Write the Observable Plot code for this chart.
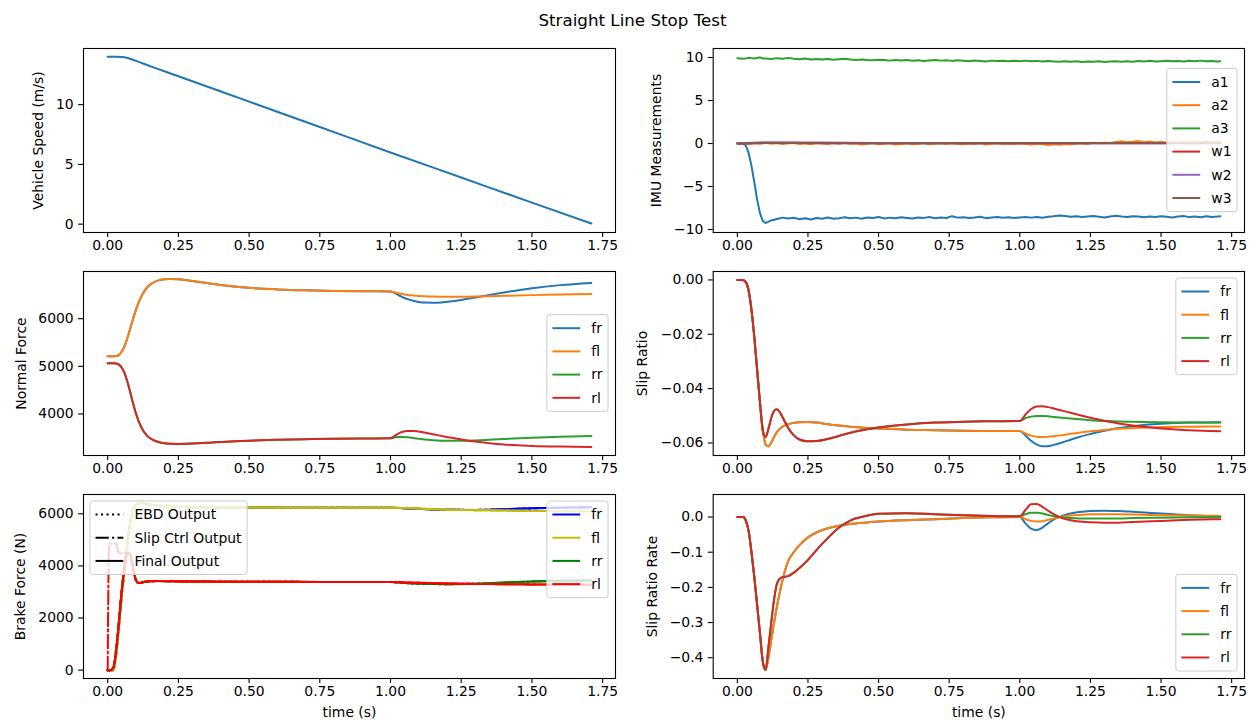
<!DOCTYPE html>
<html><head><meta charset="utf-8">
<script src="https://cdn.jsdelivr.net/npm/d3@7"></script>
<script src="https://cdn.jsdelivr.net/npm/@observablehq/plot@0.6"></script>
<style>
html,body{margin:0;padding:0;background:#fff;}
#fig{position:relative;width:1257px;height:723px;overflow:hidden;font-family:"DejaVu Sans",sans-serif;background:#fff;}
#title{position:absolute;left:4px;width:1257px;top:10px;line-height:20px;text-align:center;font-size:16.7px;color:#000;}
</style></head><body>
<div id="fig"><div id="title">Straight Line Stop Test</div></div>
<script>
// ---------------- DATA ----------------
// Vehicle speed
const speedT = [0, 0.03, 0.05, 0.07, 0.10, 0.15, 0.25, 0.50, 0.75, 1.00, 1.25, 1.50, 1.71];
const speed  = [14.0, 14.0, 13.98, 13.9, 13.66, 13.22, 12.38, 10.25, 8.13, 6.0, 3.9, 1.8, 0.05];

// IMU samples
const imuT = [0.00,0.02,0.03,0.04,0.05,0.06,0.07,0.08,0.09,0.10,0.12,0.14,0.16,0.18,
  0.20,0.22,0.24,0.26,0.28,0.30,0.32,0.34,0.36,0.38,
  0.40,0.42,0.44,0.46,0.48,0.50,0.52,0.54,0.56,0.58,
  0.60,0.62,0.64,0.66,0.68,0.70,0.72,0.74,0.76,0.78,
  0.80,0.82,0.84,0.86,0.88,0.90,0.92,0.94,0.96,0.98,
  1.00,1.02,1.04,1.06,1.08,1.10,1.12,1.14,1.16,1.18,
  1.20,1.22,1.24,1.26,1.28,1.30,1.32,1.34,1.36,1.38,
  1.40,1.42,1.44,1.46,1.48,1.50,1.52,1.54,1.56,1.58,
  1.60,1.62,1.64,1.66,1.68,1.70,1.71];
const imuA1 = [0.02,-0.03,-0.25,-1.1,-2.6,-4.5,-6.5,-8.1,-9.0,-9.25,-8.95,-8.78,-8.62,-8.72,
  -8.64,-8.8,-8.7,-8.84,-8.66,-8.74,-8.6,-8.76,-8.68,-8.58,
  -8.7,-8.62,-8.75,-8.6,-8.67,-8.55,-8.71,-8.62,-8.68,-8.58,
  -8.66,-8.73,-8.6,-8.65,-8.55,-8.7,-8.6,-8.66,-8.45,-8.62,
  -8.58,-8.66,-8.6,-8.52,-8.68,-8.6,-8.55,-8.64,-8.58,-8.66,
  -8.6,-8.54,-8.62,-8.56,-8.64,-8.52,-8.47,-8.36,-8.44,-8.52,
  -8.46,-8.56,-8.5,-8.43,-8.52,-8.6,-8.48,-8.41,-8.5,-8.56,
  -8.46,-8.5,-8.58,-8.48,-8.54,-8.45,-8.52,-8.6,-8.5,-8.44,
  -8.56,-8.5,-8.58,-8.47,-8.54,-8.5,-8.46];
const imuA2 = [0.05,0.02,-0.03,-0.08,0.01,0.06,0.04,-0.04,0.02,0.1,-0.02,0.07,-0.06,0.03,
  0.08,-0.05,0.04,-0.1,0.06,0.0,-0.07,0.05,-0.03,0.09,
  -0.04,0.03,-0.12,-0.02,0.05,-0.09,-0.03,0.04,-0.11,-0.05,
  0.02,-0.08,-0.04,0.06,-0.1,-0.02,0.03,-0.07,0.04,-0.05,
  -0.09,0.01,-0.06,0.03,-0.12,-0.04,0.02,-0.08,-0.03,-0.1,
  0.0,-0.06,-0.13,-0.04,-0.1,-0.18,-0.08,-0.15,-0.05,-0.11,
  -0.02,0.04,-0.06,0.08,0.02,0.1,0.05,0.18,0.25,0.14,
  0.22,0.3,0.16,0.24,0.12,0.2,0.08,0.15,0.1,0.18,
  0.12,0.2,0.14,0.22,0.16,0.2,0.18];
const imuA3 = [9.92,9.86,9.9,9.97,9.93,9.88,9.95,10.02,9.89,9.9,9.84,9.93,9.87,9.96,
  9.86,9.8,9.88,9.78,9.84,9.76,9.82,9.74,9.8,9.85,
  9.76,9.7,9.78,9.72,9.68,9.75,9.7,9.64,9.72,9.66,
  9.7,9.62,9.68,9.6,9.66,9.72,9.64,9.69,9.61,9.67,
  9.63,9.58,9.66,9.6,9.55,9.64,9.59,9.62,9.56,9.63,
  9.58,9.64,9.57,9.61,9.53,9.6,9.55,9.5,9.58,9.52,
  9.56,9.49,9.54,9.5,9.57,9.48,9.53,9.58,9.51,9.56,
  9.52,9.6,9.55,9.62,9.54,9.58,9.63,9.56,9.6,9.55,
  9.62,9.57,9.64,9.58,9.6,9.54,9.56];
const wT  = [0, 0.05, 0.10, 0.30, 0.50, 1.00, 1.50, 1.71];
const imuW1 = [0, 0.02, 0.05, 0.04, 0.02, 0.02, 0.03, 0.03];
const imuW2 = [0, 0.08, 0.15, 0.12, 0.05, 0.03, 0.02, 0.02];
const imuW3 = [0, 0.03, 0.06, 0.06, 0.04, 0.05, 0.06, 0.06];

// Shared time grid for the wheel quantities
const tS = [0, 0.02, 0.03, 0.04, 0.05, 0.06, 0.07, 0.08, 0.09, 0.10, 0.11, 0.12, 0.13, 0.14, 0.15, 0.16, 0.18, 0.20, 0.22, 0.25,
  0.28, 0.32, 0.36, 0.40, 0.45, 0.50, 0.60, 0.70, 0.80, 0.90, 1.00,
  1.02, 1.04, 1.06, 1.08, 1.10, 1.12, 1.15, 1.18, 1.21, 1.25, 1.30, 1.35, 1.40, 1.50, 1.60, 1.71];

// Normal force (t <= 1.00 shared by left/right wheels, then per wheel)
const nfFrontPre = [5210,5210,5215,5240,5310,5430,5600,5800,6000,6190,6350,6480,6580,6660,6715,6755,6805,6828,6835,6828,
  6808,6775,6740,6710,6675,6648,6615,6595,6582,6576,6572];
const nfRearPre = [5065,5065,5060,5035,4970,4850,4670,4450,4220,4010,3840,3710,3610,3540,3490,3455,3410,3385,3375,3372,
  3376,3385,3398,3412,3428,3440,3458,3470,3478,3484,3488];
const nfFrPost = [6520,6460,6410,6375,6350,6338,6335,6342,6360,6395,6445,6500,6550,6640,6705,6750];
const nfFlPost = [6545,6520,6500,6488,6478,6472,6466,6462,6460,6460,6464,6472,6480,6495,6508,6517];
const nfRrPost = [3515,3518,3510,3495,3478,3462,3448,3440,3437,3436,3445,3460,3475,3500,3522,3538];
const nfRlPost = [3560,3620,3645,3645,3630,3610,3575,3540,3505,3465,3420,3385,3358,3330,3315,3305];

// Slip ratio
const srFrontPre = [0,0,-0.0008,-0.004,-0.011,-0.021,-0.033,-0.045,-0.055,-0.0605,-0.0612,-0.0598,-0.0578,-0.0560,-0.0548,-0.0540,-0.0531,-0.0526,-0.0524,-0.0523,
  -0.0525,-0.0531,-0.0536,-0.0540,-0.0544,-0.0547,-0.0551,-0.0553,-0.0555,-0.0556,-0.0556];
const srRearPre = [0,0,-0.0008,-0.004,-0.011,-0.021,-0.033,-0.045,-0.0555,-0.0578,-0.0548,-0.0508,-0.0482,-0.0476,-0.0486,-0.0505,-0.0545,-0.0572,-0.0587,-0.0594,
  -0.0593,-0.0585,-0.0574,-0.0562,-0.0551,-0.0543,-0.0532,-0.0525,-0.0522,-0.0520,-0.0519];
const srFrPost = [-0.0572,-0.0592,-0.0606,-0.0612,-0.0612,-0.0607,-0.0598,-0.0588,-0.0578,-0.0567,-0.0555,-0.0545,-0.0538,-0.0529,-0.0525,-0.0524];
const srFlPost = [-0.0565,-0.0573,-0.0577,-0.0578,-0.0577,-0.0575,-0.0571,-0.0566,-0.0562,-0.0557,-0.0552,-0.0548,-0.0545,-0.0541,-0.0540,-0.0539];
const srRrPost = [-0.0508,-0.0503,-0.0501,-0.0501,-0.0502,-0.0504,-0.0507,-0.0510,-0.0513,-0.0516,-0.0519,-0.0521,-0.0522,-0.0524,-0.0525,-0.0525];
const srRlPost = [-0.0495,-0.0475,-0.0466,-0.0465,-0.0468,-0.0473,-0.0481,-0.0489,-0.0497,-0.0507,-0.0518,-0.0528,-0.0536,-0.0547,-0.0553,-0.0557];

// Slip ratio rate
const srrFrontPre = [0,0,-0.01,-0.04,-0.10,-0.17,-0.25,-0.33,-0.41,-0.435,-0.40,-0.35,-0.30,-0.255,-0.215,-0.18,-0.125,-0.100,-0.080,-0.058,
  -0.044,-0.032,-0.025,-0.020,-0.016,-0.013,-0.009,-0.006,-0.003,-0.001,0.0];
const srrRearPre = [0,0,-0.01,-0.04,-0.10,-0.17,-0.25,-0.33,-0.41,-0.435,-0.37,-0.30,-0.235,-0.19,-0.175,-0.171,-0.168,-0.158,-0.145,-0.122,
  -0.094,-0.060,-0.030,-0.010,0.002,0.009,0.011,0.008,0.005,0.003,0.002];
const srrFrPost = [-0.018,-0.033,-0.037,-0.030,-0.018,-0.007,0.003,0.010,0.014,0.017,0.018,0.017,0.015,0.010,0.005,0.002];
const srrFlPost = [-0.006,-0.011,-0.013,-0.012,-0.008,-0.004,0.001,0.004,0.006,0.008,0.008,0.008,0.007,0.005,0.004,0.003];
const srrRrPost = [0.008,0.012,0.012,0.010,0.006,0.002,-0.001,-0.003,-0.004,-0.004,-0.004,-0.004,-0.003,-0.002,-0.001,0.000];
const srrRlPost = [0.020,0.036,0.037,0.029,0.018,0.008,-0.003,-0.009,-0.013,-0.015,-0.016,-0.016,-0.014,-0.011,-0.008,-0.006];

// Brake force
const brakeT = [0, 0.005, 0.01, 0.02, 0.03, 0.04, 0.05, 0.06, 0.07, 0.08, 0.09, 0.10, 0.11, 0.12, 0.13, 0.15, 0.18, 0.22, 0.30, 0.50,
  0.75, 1.00, 1.05, 1.10, 1.20, 1.30, 1.40, 1.50, 1.60, 1.71];
const bfFr = [0,0,0,0,600,1700,2900,3900,4900,5700,6150,6350,6410,6420,6405,6360,6310,6280,6255,6240,
  6235,6230,6215,6190,6155,6150,6175,6210,6235,6250];
const bfFl = [0,0,0,0,600,1700,2900,3900,4900,5700,6150,6350,6410,6420,6405,6360,6310,6280,6255,6240,
  6235,6230,6225,6200,6160,6140,6125,6110,6100,6095];
const bfRr = [0,0,0,100,800,1900,3100,4000,4500,4450,3900,3450,3340,3360,3390,3410,3420,3412,3402,3392,
  3386,3380,3345,3315,3300,3318,3360,3400,3428,3440];
const bfRl = [0,0,0,100,800,1900,3100,4000,4500,4450,3900,3450,3340,3360,3390,3410,3420,3412,3402,3392,
  3386,3380,3368,3350,3328,3310,3298,3290,3284,3280];
const bfRlSlip = [0,4850,4850,4850,4850,4500,4480,4500,4500,4450,3900,3450,3340,3360,3390,3410,3420,3412,3402,3392,
  3386,3380,3368,3350,3328,3310,3298,3290,3284,3280];

const wheels = ["fr", "fl", "rr", "rl"];
const imuNames = ["a1", "a2", "a3", "w1", "w2", "w3"];
const outputNames = ["EBD Output", "Slip Ctrl Output", "Final Output"];
const xTicks = [0, 0.25, 0.5, 0.75, 1.0, 1.25, 1.5, 1.75];

// ---------------- STYLE / LAYOUT ----------------
const FONT = "DejaVu Sans";
const FS = 13.9;
const T10 = ["#1f77b4", "#ff7f0e", "#2ca02c", "#d62728", "#9467bd", "#8c564b"];
const BCOL = ["#0000ff", "#bfbf00", "#008000", "#ff0000"];
const DOT = "2.08,3.43", DASHDOT = "13.3,3.3,2.08,3.3";
const xDomain = [-0.0855, 1.7955];
const COLS = [{svgL: 0, frameL: 83, W: 532}, {svgL: 628, frameL: 712.7, W: 531.3}];
const ROWS = [48, 271, 494];
const H = 184;
const fig = document.getElementById("fig");

function addLegend(svg, f, L) {
  const pad = 5.56, hl = 27.8, htp = 11.1, rowH = 23.2, txtH = 16, axPad = 6.95;
  const n = L.entries.length;
  const boxH = n * txtH + (n - 1) * (rowH - txtH) + 2 * pad;
  const g = d3.select(svg).append("g").attr("font-family", FONT).attr("font-size", FS).attr("text-anchor", "start");
  const rect = g.append("rect");
  const items = g.append("g");
  const texts = L.entries.map(e => items.append("text").text(e.label).attr("fill", "black").attr("text-anchor", "start").attr("dy", "0.35em"));
  const tw = d3.max(texts, t => t.node().getComputedTextLength());
  const boxW = pad + hl + htp + tw + pad;
  const x0 = L.loc.includes("right") ? f.fR - axPad - boxW : f.fL + axPad;
  const y0 = L.loc.startsWith("upper") ? f.fT + axPad : L.loc.startsWith("lower") ? f.fB - axPad - boxH : (f.fT + f.fB) / 2 - boxH / 2;
  rect.attr("x", x0).attr("y", y0).attr("width", boxW).attr("height", boxH).attr("rx", 2.8)
    .attr("fill", "white").attr("fill-opacity", 0.8).attr("stroke", "#cccccc").attr("stroke-width", 1);
  L.entries.forEach((e, i) => {
    const cy = y0 + pad + txtH / 2 + i * rowH;
    items.insert("line", "text").attr("x1", x0 + pad).attr("x2", x0 + pad + hl).attr("y1", cy).attr("y2", cy)
      .attr("stroke", e.color).attr("stroke-width", 2).attr("stroke-dasharray", e.dash || null);
    texts[i].attr("x", x0 + pad + hl + htp).attr("y", cy);
  });
}

function drawPanel(col, row, cfg) {
  const c = COLS[col], fT = ROWS[row];
  const mT = 12, mB = 45, mL = c.frameL - c.svgL, mR = 12;
  const lines = cfg.series.map(s => Plot.line(s.t.map((t, i) => ({t, v: s.v[i]})), {
    x: "t", y: "v", stroke: s.color, strokeWidth: 2, strokeDasharray: s.dash,
    curve: s.curve || "monotone-x"
  }));
  const extra = [Plot.text([cfg.ylabel], {text: d => d, frameAnchor: "left", textAnchor: "middle", lineAnchor: "middle", rotate: -90, dx: cfg.ylabelDx, fontSize: FS, fill: "black"})];
  if (cfg.xlabel) extra.push(Plot.text([cfg.xlabel], {text: d => d, frameAnchor: "bottom", textAnchor: "middle", dy: 38, fontSize: FS, fill: "black"}));
  const svg = Plot.plot({
    width: mL + c.W + mR, height: mT + H + mB,
    marginLeft: mL, marginRight: mR, marginTop: mT, marginBottom: mB,
    style: {fontFamily: FONT, fontSize: FS + "px", color: "black", background: "transparent", overflow: "visible"},
    x: {domain: xDomain, label: null},
    y: {domain: cfg.yDomain, label: null},
    marks: [
      ...lines,
      Plot.frame({stroke: "black", strokeWidth: 1.1}),
      Plot.axisX({ticks: xTicks, tickFormat: d3.format(".2f"), tickSize: 4.9, tickPadding: 3, label: null, strokeWidth: 1.1}),
      Plot.axisY({ticks: cfg.yTicks, tickFormat: cfg.yFmt, tickSize: 4.9, tickPadding: 4.9, label: null, strokeWidth: 1.1}),
      ...extra
    ]
  });
  svg.style.position = "absolute";
  svg.style.left = c.svgL + "px";
  svg.style.top = (fT - mT) + "px";
  fig.appendChild(svg);
  const f = {fL: mL, fT: mT, fR: mL + c.W, fB: mT + H};
  (cfg.legends || []).forEach(L => addLegend(svg, f, L));
}

const wheelLegend = (loc, colors) => ({loc, entries: wheels.map((w, i) => ({label: w, color: colors[i]}))});

// 1. Vehicle speed
drawPanel(0, 0, {
  yDomain: [-0.7, 14.7], yTicks: [0, 5, 10], yFmt: d3.format("d"),
  ylabel: "Vehicle Speed (m/s)", ylabelDx: -45,
  series: [{t: speedT, v: speed, color: T10[0]}]
});

// 2. IMU
const imuSeries = [
  {t: imuT, v: imuA1, color: T10[0], curve: "linear"},
  {t: imuT, v: imuA2, color: T10[1], curve: "linear"},
  {t: imuT, v: imuA3, color: T10[2], curve: "linear"},
  {t: wT, v: imuW1, color: T10[3], curve: "linear"},
  {t: wT, v: imuW2, color: T10[4], curve: "linear"},
  {t: wT, v: imuW3, color: T10[5], curve: "linear"}
];
drawPanel(1, 0, {
  yDomain: [-10.35, 11.05], yTicks: [-10, -5, 0, 5, 10], yFmt: d3.format("d"),
  ylabel: "IMU Measurements", ylabelDx: -57,
  series: imuSeries,
  legends: [{loc: "center right", entries: imuNames.map((n, i) => ({label: n, color: T10[i]}))}]
});

// 3. Normal force
drawPanel(0, 1, {
  yDomain: [3128, 6991], yTicks: [4000, 5000, 6000], yFmt: d3.format("d"),
  ylabel: "Normal Force", ylabelDx: -62,
  series: [
    {t: tS, v: nfFrontPre.concat(nfFrPost), color: T10[0]},
    {t: tS, v: nfFrontPre.concat(nfFlPost), color: T10[1]},
    {t: tS, v: nfRearPre.concat(nfRrPost), color: T10[2]},
    {t: tS, v: nfRearPre.concat(nfRlPost), color: T10[3]}
  ],
  legends: [wheelLegend("center right", T10)]
});

// 4. Slip ratio
drawPanel(1, 1, {
  yDomain: [-0.0646, 0.0031], yTicks: [0, -0.02, -0.04, -0.06], yFmt: d3.format(".2f"),
  ylabel: "Slip Ratio", ylabelDx: -71,
  series: [
    {t: tS, v: srFrontPre.concat(srFrPost), color: T10[0]},
    {t: tS, v: srFrontPre.concat(srFlPost), color: T10[1]},
    {t: tS, v: srRearPre.concat(srRrPost), color: T10[2]},
    {t: tS, v: srRearPre.concat(srRlPost), color: T10[3]}
  ],
  legends: [wheelLegend("upper right", T10)]
});

// 5. Brake force
const bfFinal = [bfFr, bfFl, bfRr, bfRl];
const bfSlip = [bfFr, bfFl, bfRr, bfRlSlip];
const brakeSeries = [];
wheels.forEach((w, i) => {
  brakeSeries.push({t: brakeT, v: bfFinal[i], color: BCOL[i], dash: DOT});
  brakeSeries.push({t: brakeT, v: bfSlip[i], color: BCOL[i], dash: DASHDOT});
  brakeSeries.push({t: brakeT, v: bfFinal[i], color: BCOL[i]});
});
drawPanel(0, 2, {
  yDomain: [-321, 6741], yTicks: [0, 2000, 4000, 6000], yFmt: d3.format("d"),
  ylabel: "Brake Force (N)", ylabelDx: -63, xlabel: "time (s)",
  series: brakeSeries,
  legends: [
    {loc: "upper left", entries: outputNames.map((n, i) => ({label: n, color: "black", dash: [DOT, DASHDOT, null][i]}))},
    wheelLegend("upper right", BCOL)
  ]
});

// 6. Slip ratio rate
drawPanel(1, 2, {
  yDomain: [-0.459, 0.064], yTicks: [0, -0.1, -0.2, -0.3, -0.4], yFmt: d3.format(".1f"),
  ylabel: "Slip Ratio Rate", ylabelDx: -61, xlabel: "time (s)",
  series: [
    {t: tS, v: srrFrontPre.concat(srrFrPost), color: T10[0]},
    {t: tS, v: srrFrontPre.concat(srrFlPost), color: T10[1]},
    {t: tS, v: srrRearPre.concat(srrRrPost), color: T10[2]},
    {t: tS, v: srrRearPre.concat(srrRlPost), color: T10[3]}
  ],
  legends: [wheelLegend("lower right", T10)]
});
</script></body></html>
